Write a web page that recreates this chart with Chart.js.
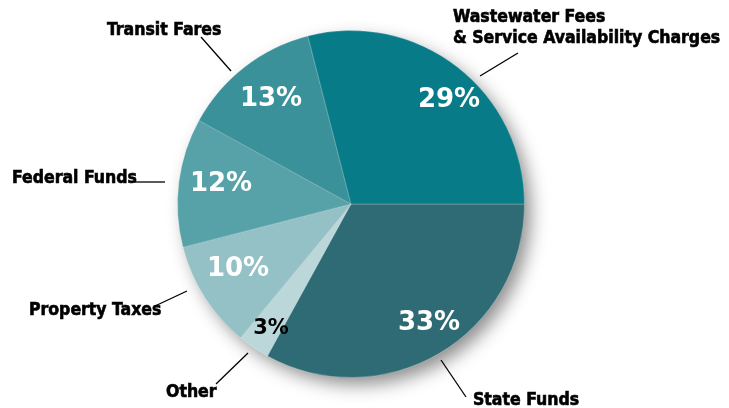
<!DOCTYPE html>
<html>
<head>
<meta charset="utf-8">
<script src="https://cdn.jsdelivr.net/npm/chart.js@4"></script>
<style>
  html, body { margin: 0; padding: 0; background: #fff; }
  #wrap { width: 729px; height: 408px; }
</style>
</head>
<body>
<div id="wrap"><canvas id="pieChart" width="729" height="408"></canvas></div>
<script>
// data, clockwise from 3 o'clock
const categories = ['State Funds', 'Other', 'Property Taxes', 'Federal Funds', 'Transit Fares', 'Wastewater Fees & Service Availability Charges'];
const shares = [33, 3, 10, 12, 13, 29];
const sliceColors = ['#2f6b74', '#bcd7d9', '#94c1c6', '#57a2a8', '#3a9199', '#077b88'];

// label layout (pixels)
const nameLines = [['State Funds'], ['Other'], ['Property Taxes'], ['Federal Funds'], ['Transit Fares'], ['Wastewater Fees', '& Service Availability Charges']];
const namePos = [[473, 405], [166, 397], [29, 315], [12, 183], [107, 35], [453, 22]];
const leaders = [[466, 397, 441, 360], [216, 384, 248, 353], [155, 306, 187, 291], [135, 182, 165, 182], [201, 37, 231, 71], [518, 53, 480, 76]];
const pctPos = [[429, 323], [271, 329], [238, 269], [221, 184], [271, 99], [449, 100]];

const labelFont = 'bold 17.5px "Liberation Sans Narrow", "DejaVu Sans Condensed", sans-serif';

const shadowPlugin = {
  id: 'pieShadow',
  beforeDatasetsDraw(chart) {
    const arc = chart.getDatasetMeta(0).data[0];
    if (!arc) return;
    const ctx = chart.ctx;
    ctx.save();
    ctx.shadowColor = 'rgba(0,0,0,0.45)';
    ctx.shadowBlur = 18;
    ctx.shadowOffsetX = 7;
    ctx.shadowOffsetY = 8;
    ctx.fillStyle = '#2f6b74';
    ctx.beginPath();
    ctx.arc(arc.x, arc.y, arc.outerRadius - 1, 0, Math.PI * 2);
    ctx.fill();
    ctx.restore();
  }
};

const labelPlugin = {
  id: 'pieLabels',
  afterDatasetsDraw(chart) {
    const ctx = chart.ctx;
    ctx.save();
    // leader lines
    ctx.strokeStyle = '#000';
    ctx.lineWidth = 1.3;
    leaders.forEach(l => {
      ctx.beginPath();
      ctx.moveTo(l[0], l[1]);
      ctx.lineTo(l[2], l[3]);
      ctx.stroke();
    });
    // category names (stroked a little to look heavier)
    ctx.fillStyle = '#000';
    ctx.lineWidth = 0.6;
    ctx.font = labelFont;
    ctx.textAlign = 'left';
    ctx.textBaseline = 'alphabetic';
    nameLines.forEach((lines, i) => {
      lines.forEach((t, j) => {
        const x = namePos[i][0], y = namePos[i][1] + j * 21;
        ctx.fillText(t, x, y);
        ctx.strokeText(t, x, y);
      });
    });
    // percentages
    ctx.textAlign = 'center';
    ctx.textBaseline = 'middle';
    shares.forEach((v, i) => {
      const small = v < 5;
      ctx.font = (small ? 'bold 21px' : 'bold 26px') + ' "DejaVu Sans", Verdana, sans-serif';
      ctx.fillStyle = small ? '#000' : '#fff';
      ctx.fillText(v + '%', pctPos[i][0], pctPos[i][1]);
    });
    ctx.restore();
  }
};

new Chart(document.getElementById('pieChart'), {
  type: 'pie',
  data: {
    labels: categories,
    datasets: [{
      data: shares,
      backgroundColor: sliceColors,
      borderColor: 'rgba(255,255,255,0.22)',
      borderWidth: 1
    }]
  },
  options: {
    responsive: false,
    animation: false,
    rotation: 90,
    layout: { padding: { left: 177, right: 204, top: 30, bottom: 30 } },
    plugins: {
      legend: { display: false },
      tooltip: { enabled: false }
    }
  },
  plugins: [shadowPlugin, labelPlugin]
});
</script>
</body>
</html>
